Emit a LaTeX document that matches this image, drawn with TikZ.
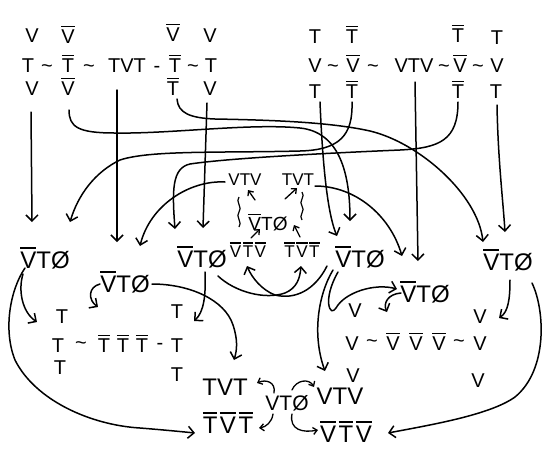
\documentclass[tikz,border=0pt]{standalone}
\usepackage{fontspec}
\setmainfont{Liberation Sans}
\usetikzlibrary{arrows.meta,calc}
\newcommand\ob[1]{\vbox{\hrule height .08em\kern .1em\hbox{#1}}}
\newcommand\tld{\textasciitilde}
\begin{document}
\begin{tikzpicture}[x=1pt,y=-1pt,
  lt/.style={font=\fontsize{20}{22}\selectfont, inner sep=1pt, anchor=base},
  md/.style={font=\fontsize{24}{26}\selectfont, inner sep=1pt, anchor=base},
  sm/.style={font=\fontsize{17}{19}\selectfont, inner sep=1pt, anchor=base},
  bt/.style={font=\fontsize{24}{26}\selectfont, inner sep=1pt, anchor=base},
  ln/.style={line width=1.5pt, line cap=round},
  arr/.style={ln, -{Straight Barb[length=6pt,width=12pt]}},
  sarr/.style={line width=1.3pt, line cap=round, -{Straight Barb[length=4pt,width=7pt]}}]
\fill[white] (0,0) rectangle (550,467);
\useasboundingbox (0,0) rectangle (550,467);
% ---------- top left block ----------
\node[lt] (a1) at (32,42) {V};
\node[lt] (a2) at (68,43) {\ob{V}};
\node[lt] (a3) at (173,41) {\ob{V}};
\node[lt] (a4) at (210,42) {V};
\node[lt] (b1) at (28,72) {T};
\node[lt] (b1t) at (47,72) {\tld};
\node[lt] (b2) at (68,72) {\ob{T}};
\node[lt] (b2t) at (89,72) {\tld};
\node[lt] (b3) at (127,72) {TVT};
\node[lt] (b3t) at (157,72) {-};
\node[lt] (b4) at (175,72) {\ob{T}};
\node[lt] (b4t) at (193,72) {\tld};
\node[lt] (b5) at (211,72) {T};
\node[lt] (c1) at (32,95) {V};
\node[lt] (c2) at (68,95) {\ob{V}};
\node[lt] (c3) at (173,95) {\ob{T}};
\node[lt] (c4) at (210,95) {V};
% ---------- top right block ----------
\node[lt] (p1) at (315,43) {T};
\node[lt] (p2) at (352,43) {\ob{T}};
\node[lt] (p3) at (458,42) {\ob{T}};
\node[lt] (p4) at (497,44) {T};
\node[lt] (q1) at (315,72) {V};
\node[lt] (q1t) at (333,72) {\tld};
\node[lt] (q2) at (353,72) {\ob{V}};
\node[lt] (q2t) at (373,72) {\tld};
\node[lt] (q3) at (414,72) {VTV};
\node[lt] (q3t) at (444,72) {\tld};
\node[lt] (q4) at (460,72) {\ob{V}};
\node[lt] (q4t) at (478,72) {\tld};
\node[lt] (q5) at (497,72) {V};
\node[lt] (r1) at (315,98) {T};
\node[lt] (r2) at (352,98) {\ob{T}};
\node[lt] (r3) at (458,98) {\ob{T}};
\node[lt] (r4) at (496,98) {T};
% ---------- middle row ----------
\node[md] (L1) at (45,268) {\ob{V}TØ};
\node[md] (C1) at (202,267) {\ob{V}TØ};
\node[md] (R1) at (360,267) {\ob{V}TØ};
\node[md] (Rr) at (508,270) {\ob{V}TØ};
\node[md] (C2) at (125,292) {\ob{V}TØ};
\node[md] (R3) at (425,302) {\ob{V}TØ};
% ---------- centre cluster ----------
\node[sm] (VTVs) at (245,185) {VTV};
\node[sm] (TVTs) at (298,185) {TVT};
\node[sm,font=\fontsize{19}{21}\selectfont] (Vc) at (268,230) {\ob{V}TØ};
\node[sm] (VVs) at (248,257) {\ob{V}\kern1.5pt\ob{T}\kern1.5pt\ob{V}};
\node[sm] (TTs) at (302,257) {\ob{T}\kern1.5pt\ob{V}\kern1.5pt\ob{T}};
% ---------- T block ----------
\node[lt] (d1) at (62,323) {T};
\node[lt] (d2) at (177,318) {T};
\node[lt] (e1) at (58,352) {T};
\node[lt] (e1t) at (81,349) {\tld};
\node[lt] (e2) at (104,352) {\ob{T}};
\node[lt] (e3) at (123,352) {\ob{T}};
\node[lt] (e4) at (142,352) {\ob{T}};
\node[lt] (e5t) at (160,349) {-};
\node[lt] (e6) at (177,352) {T};
\node[lt] (f1) at (60,374) {T};
\node[lt] (f2) at (177,381) {T};
% ---------- V block ----------
\node[lt] (g1) at (355,317) {V};
\node[lt] (g2) at (480,323) {V};
\node[lt] (h1) at (352,350) {V};
\node[lt] (h1t) at (372,347) {\tld};
\node[lt] (h2) at (393,350) {\ob{V}};
\node[lt] (h3) at (416,350) {\ob{V}};
\node[lt] (h4) at (439,350) {\ob{V}};
\node[lt] (h4t) at (459,347) {\tld};
\node[lt] (h5) at (480,350) {V};
\node[lt] (i1) at (353,382) {V};
\node[lt] (i2) at (478,387) {V};
% ---------- bottom cluster ----------
\node[bt] (TVTb) at (225,395) {TVT};
\node[bt] (TTb) at (228,433) {\ob{T}\kern2.5pt\ob{V}\kern2.5pt\ob{T}};
\node[md,font=\fontsize{21}{23}\selectfont] (VTOb) at (287,410) {VTØ};
\node[md] (VTVb) at (340,404) {VTV};
\node[bt] (VVb) at (346,442) {\ob{V}\kern2.5pt\ob{T}\kern2.5pt\ob{V}};
% ---------- connectors from top ----------
\draw[arr] ($(c1.base)+(-1,17)$) -- ($(L1.base)+(-13,-46)$);
\draw[arr] ($(c2.base)+(1,15)$) .. controls (69,127) and (78,133) .. (115,133)
  .. controls (170,134) and (250,123) .. (300,128)
  .. controls (338,132) and (350,170) .. ($(R1.base)+(-10,-46)$);
\draw[arr] ($(b3.base)+(-10,18)$) -- ($(C2.base)+(-8,-50)$);
\draw[arr] ($(c3.base)+(4,4)$) .. controls (178,113) and (190,118) .. (215,119)
  .. controls (270,120) and (330,122) .. (370,131)
  .. controls (420,143) and (478,195) .. ($(Rr.base)+(-25,-28)$);
\draw[arr] ($(c4.base)+(-3,8)$) -- ($(C1.base)+(1,-39)$);
\draw[arr] ($(r1.base)+(5,4)$) .. controls (322,150) and (326,210) .. ($(R1.base)+(-23,-31)$);
\draw[arr] ($(r2.base)+(0,4)$) .. controls (353,135) and (340,150) .. (300,151)
  .. controls (220,153) and (150,150) .. (120,160)
  .. controls (95,172) and (78,195) .. ($(L1.base)+(25,-46)$);
\draw[arr] ($(q3.base)+(1,10)$) -- ($(R3.base)+(-7,-41)$);
\draw[arr] ($(r3.base)+(0,4)$) .. controls (458,140) and (440,148) .. (400,150)
  .. controls (330,153) and (230,158) .. (190,164)
  .. controls (172,168) and (172,190) .. ($(C1.base)+(-27,-38)$);
\draw[arr] ($(r4.base)+(1,7)$) .. controls (498,160) and (503,200) .. ($(Rr.base)+(-3,-38)$);
% ---------- centre cluster connectors ----------
\draw[arr] ($(VTVs.base)+(-20,-3)$) .. controls (190,180) and (150,205) .. ($(C2.base)+(15,-46)$);
\draw[arr] ($(TVTs.base)+(17,1)$) .. controls (355,186) and (390,215) .. ($(R3.base)+(-23,-46)$);
\draw[sarr] ($(Vc.base)+(-13,-30)$) -- ($(VTVs.base)+(3,5)$);
\draw[sarr] ($(Vc.base)+(17,-31)$) -- ($(TVTs.base)+(-1,3)$);
\draw[sarr] ($(VVs.base)+(3,-19)$) -- ($(Vc.base)+(-8,-1)$);
\draw[sarr] ($(TTs.base)+(-2,-20)$) -- ($(Vc.base)+(26,-5)$);
\draw[line width=1.2pt] ($(Vc.base)+(-29,-33)$) .. controls +(-4,4) and +(4,-4) .. ($(Vc.base)+(-29,-18)$)
  .. controls +(-4,4) and +(4,-4) .. ($(Vc.base)+(-29,-3)$);
\draw[line width=1.2pt] ($(Vc.base)+(34,-38)$) .. controls +(4,4) and +(-4,-4) .. ($(Vc.base)+(34,-24)$)
  .. controls +(4,4) and +(-4,-4) .. ($(Vc.base)+(34,-10)$);
\draw[arr] ($(C1.base)+(16,9)$) .. controls (235,292) and (265,300) .. (285,293)
  .. controls (297,288) and (300,278) .. ($(TTs.base)+(-1,9)$);
\draw[arr] ($(R1.base)+(-33,-1)$) .. controls (315,290) and (295,300) .. (275,295)
  .. controls (262,290) and (252,278) .. ($(VVs.base)+(-1,9)$);
% ---------- lower connectors ----------
\draw[arr] ($(R1.base)+(-27,3)$) .. controls (318,295) and (312,335) .. ($(VTVb.base)+(-15,-33)$);
\draw[arr] ($(R1.base)+(-22,5)$) .. controls (322,300) and (330,318) .. (336,308)
  .. controls (345,292) and (375,283) .. ($(R3.base)+(-28,-13)$);
\draw[arr] ($(R3.base)+(-24,-9)$) .. controls (388,294) and (383,303) .. ($(h2.base)+(-6,-38)$);
\draw[arr] ($(C2.base)+(-25,-8)$) .. controls (88,287) and (88,300) .. ($(e2.base)+(-6,-45)$);
\draw[arr] ($(Rr.base)+(2,10)$) .. controls (510,300) and (508,312) .. ($(g2.base)+(19,-5)$);
\draw[arr] ($(Rr.base)+(24,13)$) .. controls (545,310) and (548,370) .. (515,397)
  .. controls (490,415) and (430,425) .. ($(VVb.base)+(42,-9)$);
\draw[arr] ($(L1.base)+(-22,6)$) .. controls (18,290) and (22,312) .. ($(d1.base)+(-25,-1)$);
\draw[arr] ($(L1.base)+(-20,0)$) .. controls (10,290) and (3,330) .. (15,360)
  .. controls (35,400) and (90,425) .. (140,428)
  .. controls (165,430) and (185,432) .. ($(TTb.base)+(-33,0)$);
\draw[arr] ($(C2.base)+(27,-8)$) .. controls (190,284) and (225,300) .. (233,325)
  .. controls (238,340) and (237,350) .. ($(TVTb.base)+(9,-35)$);
\draw[arr] ($(C1.base)+(3,5)$) .. controls (206,295) and (204,312) .. ($(d2.base)+(17,3)$);
% ---------- bottom cluster connectors ----------
\draw[sarr] ($(VTOb.base)+(-13,-17)$) .. controls (276,382) and (266,379) .. ($(TVTb.base)+(32,-12)$);
\draw[sarr] ($(VTOb.base)+(-14,4)$) .. controls (272,422) and (266,427) .. ($(TTb.base)+(31,-5)$);
\draw[sarr] ($(VTOb.base)+(5,-20)$) .. controls (296,380) and (309,378) .. ($(VTVb.base)+(-26,-17)$);
\draw[sarr] ($(VTOb.base)+(5,4)$) .. controls (289,430) and (303,433) .. ($(VVb.base)+(-28,-12)$);
\end{tikzpicture}
\end{document}
